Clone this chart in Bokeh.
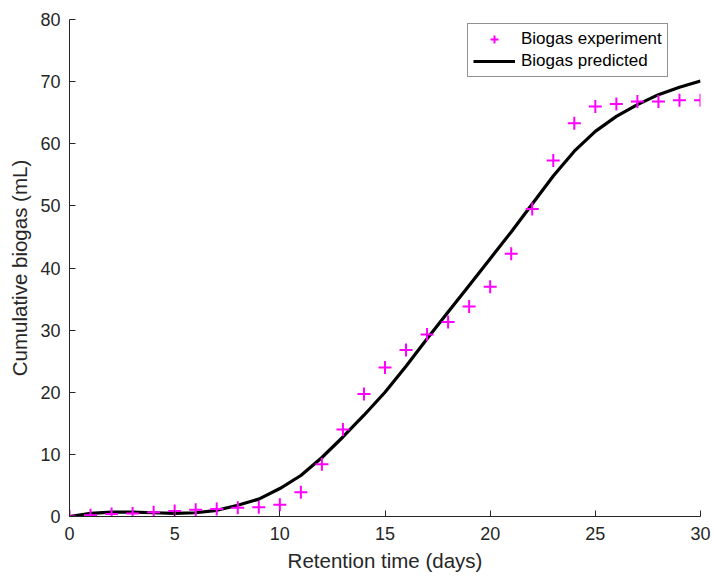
from bokeh.plotting import figure
from bokeh.models import Range1d, Legend, LegendItem, FixedTicker, ColumnDataSource
from bokeh.embed import file_html
from bokeh.resources import INLINE

# Data
days = list(range(0, 31))
biogas_experiment = [0.0, 0.2, 0.4, 0.5, 0.7, 0.9, 1.1, 1.2, 1.4, 1.5, 1.9,
                     3.9, 8.4, 14.0, 19.7, 24.0, 26.8, 29.3, 31.3, 33.8, 37.0,
                     42.3, 49.5, 57.3, 63.3, 66.0, 66.4, 66.8, 66.8, 67.0, 67.0]
biogas_predicted = [0.0, 0.5, 0.7, 0.7, 0.6, 0.5, 0.6, 1.0, 1.8, 2.8, 4.5,
                    6.6, 9.5, 12.8, 16.3, 20.0, 24.2, 28.6, 32.9, 37.2, 41.5,
                    45.8, 50.3, 54.8, 58.8, 62.0, 64.4, 66.3, 67.9, 69.1, 70.1]
x_ticks = [0, 5, 10, 15, 20, 25, 30]
y_ticks = [0, 10, 20, 30, 40, 50, 60, 70, 80]

FONT = "Liberation Sans"
TXT = "#262626"

src_exp = ColumnDataSource(dict(x=days, y=biogas_experiment))
src_pred = ColumnDataSource(dict(x=days, y=biogas_predicted))

p = figure(width=714, height=578, output_backend="svg", toolbar_location=None,
           x_range=Range1d(0, 30), y_range=Range1d(0, 80),
           min_border_left=69, min_border_right=14, min_border_top=19,
           min_border_bottom=62)
p.outline_line_color = None
p.xgrid.grid_line_color = None
p.ygrid.grid_line_color = None
p.background_fill_color = "white"
p.border_fill_color = "white"

r_line = p.line("x", "y", source=src_pred, line_color="black", line_width=3.2)
r_pts = p.scatter("x", "y", source=src_exp, marker="cross", size=13,
                  line_color="#FF00FF", line_width=2)

for ax in (p.xaxis[0], p.yaxis[0]):
    ax.axis_line_color = TXT
    ax.axis_line_width = 1
    ax.major_tick_line_color = TXT
    ax.major_tick_in = 6
    ax.major_tick_out = 0
    ax.minor_tick_line_color = None
    ax.major_label_text_font = FONT
    ax.major_label_text_font_size = "18px"
    ax.major_label_text_color = TXT
    ax.axis_label_text_font = FONT
    ax.axis_label_text_font_size = "20.5px"
    ax.axis_label_text_font_style = "normal"
    ax.axis_label_text_color = TXT

p.xaxis[0].ticker = FixedTicker(ticks=x_ticks)
p.yaxis[0].ticker = FixedTicker(ticks=y_ticks)
p.xaxis[0].axis_label = "Retention time (days)"
p.yaxis[0].axis_label = "Cumulative biogas (mL)"
p.xaxis[0].major_label_standoff = 10
p.yaxis[0].major_label_standoff = 9
p.xaxis[0].axis_label_standoff = 6
p.yaxis[0].axis_label_standoff = 6

legend = Legend(items=[
    LegendItem(label="Biogas experiment", renderers=[r_pts]),
    LegendItem(label="Biogas predicted", renderers=[r_line]),
], location=(398, 439))
legend.margin = 0
legend.padding = 5
legend.spacing = 2
legend.glyph_width = 42
legend.glyph_height = 20
legend.label_height = 20
legend.label_standoff = 6
legend.label_text_font = FONT
legend.label_text_font_size = "17px"
legend.label_text_color = "black"
legend.border_line_color = TXT
legend.border_line_width = 1
legend.background_fill_color = "white"
legend.background_fill_alpha = 1.0
p.add_layout(legend)

open("out.html", "w").write(file_html(p, INLINE))
